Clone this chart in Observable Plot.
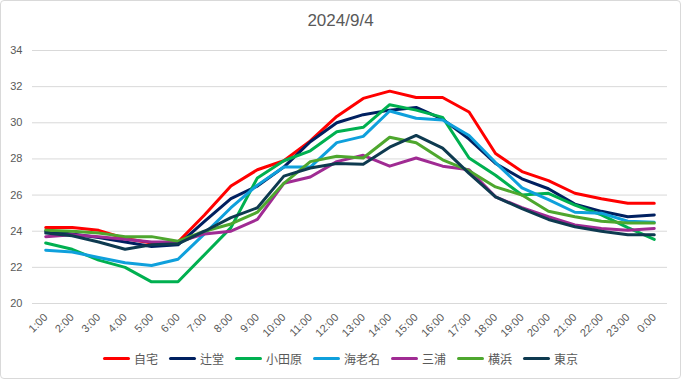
<!DOCTYPE html>
<html>
<head>
<meta charset="utf-8">
<script src="https://cdn.jsdelivr.net/npm/d3@7"></script>
<script src="https://cdn.jsdelivr.net/npm/@observablehq/plot@0.6"></script>
<style>
  html, body { margin: 0; padding: 0; background: #fff; }
  #frame {
    position: relative; width: 681px; height: 379px; box-sizing: border-box;
    border: 1px solid #d9d9d9; border-radius: 4px; overflow: hidden;
    font-family: "Liberation Sans", Arial, "Noto Sans CJK JP", sans-serif;
  }
  #title { height: 38px; line-height: 40px; text-align: center; font-size: 17px; color: #595959; }
  #chart svg { display: block; }
  #legend { display: flex; justify-content: center; align-items: center; gap: 11px; height: 28px;
    font-family: "Noto Sans CJK JP", sans-serif; font-size: 12px; color: #595959; }
  .item { display: flex; align-items: center; gap: 4px; }
  .sw { width: 27px; height: 3px; border-radius: 2px; }
</style>
</head>
<body>
<div id="frame">
  <div id="title">2024/9/4</div>
  <div id="chart"></div>
  <div id="legend"></div>
</div>
<script>
const hours = ["1:00","2:00","3:00","4:00","5:00","6:00","7:00","8:00","9:00","10:00","11:00","12:00",
  "13:00","14:00","15:00","16:00","17:00","18:00","19:00","20:00","21:00","22:00","23:00","0:00"];
const names = ["自宅","辻堂","小田原","海老名","三浦","横浜","東京"];
const colors = ["#FF0000","#002060","#00B050","#0FA0DC","#A02B93","#4EA72E","#0E3A50"];
const yTicks = [20,22,24,26,28,30,32,34];

const jitaku  = [24.2,24.2,24.05,23.6,23.35,23.4,24.9,26.5,27.4,27.9,29.0,30.35,31.35,31.75,31.4,31.4,30.6,28.3,27.3,26.8,26.1,25.8,25.55,25.55];
const tsujido = [24.0,23.85,23.65,23.4,23.15,23.25,24.55,25.8,26.5,27.55,28.95,30.0,30.45,30.7,30.85,30.2,29.1,27.75,26.9,26.35,25.5,25.1,24.8,24.9];
const odawara = [23.35,23.0,22.4,22.0,21.2,21.2,22.7,24.2,26.95,27.9,28.45,29.5,29.75,31.0,30.7,30.3,28.05,27.1,26.0,26.1,25.45,24.9,24.2,23.55];
const ebina   = [22.95,22.85,22.55,22.25,22.1,22.45,23.85,25.3,26.55,27.55,27.55,28.9,29.25,30.65,30.25,30.15,29.3,27.8,26.4,25.75,25.05,25.0,24.55,24.5];
const miura   = [23.7,23.8,23.7,23.55,23.4,23.4,23.85,24.0,24.65,26.65,27.0,27.85,28.2,27.6,28.05,27.6,27.4,25.9,25.3,24.8,24.35,24.15,24.05,24.15];
const yokohama= [24.05,24.0,23.9,23.7,23.7,23.45,24.0,24.4,25.05,26.65,27.85,28.15,28.05,29.2,28.9,27.95,27.35,26.45,26.0,25.1,24.8,24.55,24.45,24.45];
const tokyo   = [23.9,23.75,23.4,23.0,23.25,23.3,24.0,24.75,25.3,27.05,27.5,27.75,27.7,28.65,29.3,28.6,27.2,25.9,25.25,24.65,24.25,24.0,23.8,23.8];

const seriesValues = [jitaku, tsujido, odawara, ebina, miura, yokohama, tokyo];
const data = names.flatMap((n, k) => hours.map((h, i) => ({hour: h, temp: seriesValues[k][i], name: n})));

const chart = Plot.plot({
  width: 679, height: 305,
  marginTop: 11, marginLeft: 31, marginRight: 13, marginBottom: 41,
  style: {fontFamily: '"Liberation Sans", Arial, sans-serif', fontSize: "11px", color: "#595959", background: "#fff"},
  x: {type: "point", domain: hours, padding: 0.5, round: false, label: null},
  y: {domain: [20, 34], label: null},
  color: {domain: names, range: colors},
  marks: [
    Plot.gridY(yTicks, {stroke: "#d9d9d9", strokeOpacity: 1}),
    Plot.axisY(yTicks, {tickSize: 0, tickPadding: 10, label: null, fill: "#595959"}),
    Plot.axisX({tickSize: 0, tickRotate: -45, tickPadding: 12, label: null, fill: "#595959"}),
    Plot.line(data, {x: "hour", y: "temp", z: "name", stroke: "name", strokeWidth: 3})
  ]
});
document.getElementById("chart").appendChild(chart);

const legend = document.getElementById("legend");
names.forEach((n, k) => {
  const it = document.createElement("div"); it.className = "item";
  const sw = document.createElement("div"); sw.className = "sw"; sw.style.background = colors[k];
  const tx = document.createElement("span"); tx.textContent = n;
  it.appendChild(sw); it.appendChild(tx); legend.appendChild(it);
});
</script>
</body>
</html>
